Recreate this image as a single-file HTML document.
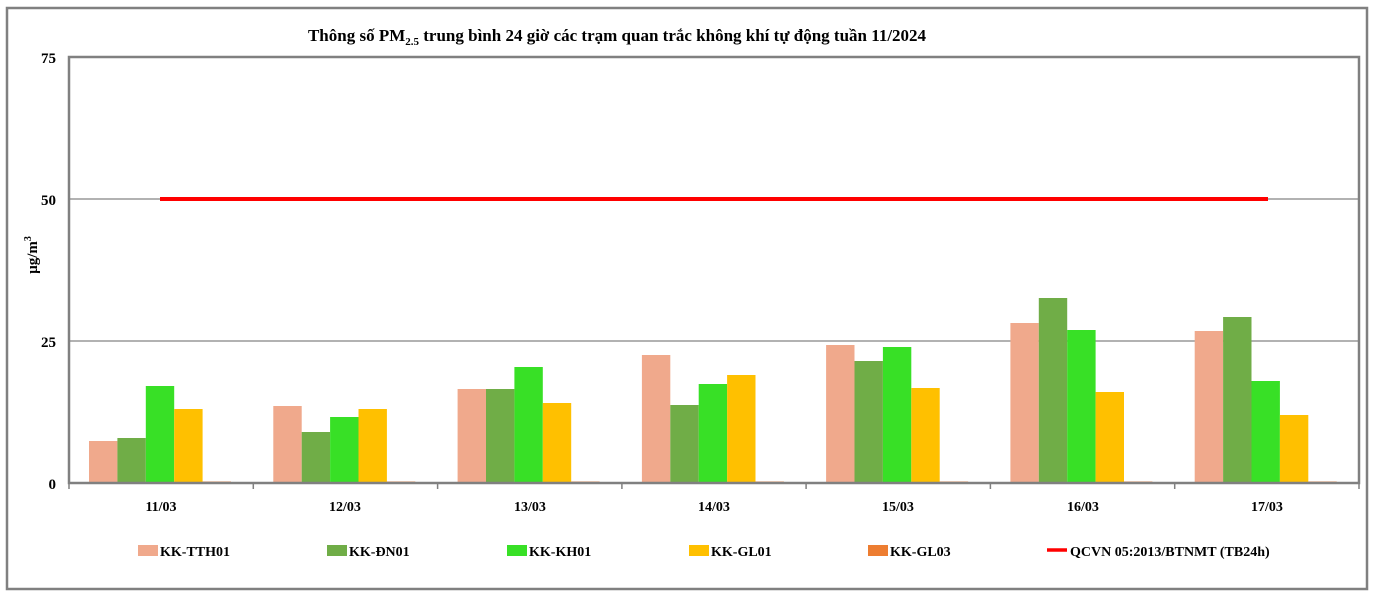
<!DOCTYPE html>
<html><head><meta charset="utf-8"><style>body{margin:0;background:#fff}svg{display:block}text{font-family:"Liberation Serif",serif;font-weight:bold}</style></head><body>
<svg width="1373" height="596" xmlns="http://www.w3.org/2000/svg">
<rect x="7" y="8" width="1360" height="581" fill="#fff" stroke="#808080" stroke-width="2.5"/>
<text x="617" y="41" font-size="17" text-anchor="middle">Thông số PM<tspan font-size="11" dy="4">2.5</tspan><tspan dy="-4"> trung bình 24 giờ các trạm quan trắc không khí tự động tuần 11/2024</tspan></text>
<line x1="69" y1="199" x2="1359" y2="199" stroke="#999" stroke-width="1.5"/>
<line x1="69" y1="341" x2="1359" y2="341" stroke="#999" stroke-width="1.5"/>
<g font-size="15" text-anchor="end"><text x="56" y="63">75</text><text x="56" y="205">50</text><text x="56" y="347">25</text><text x="56" y="489">0</text></g>
<text transform="translate(37,255) rotate(-90)" font-size="15" text-anchor="middle">µg/m<tspan font-size="10" dy="-6">3</tspan></text>
<g>
<rect x="89" y="441" width="28.4" height="42" fill="#f0a98c"/><rect x="117.4" y="438" width="28.4" height="45" fill="#70ad47"/><rect x="145.8" y="386" width="28.4" height="97" fill="#38e026"/><rect x="174.2" y="409" width="28.4" height="74" fill="#ffc000"/><rect x="202.6" y="481.5" width="28.4" height="1.5" fill="#ed7d31"/>
<rect x="273.3" y="406" width="28.4" height="77" fill="#f0a98c"/><rect x="301.7" y="432" width="28.4" height="51" fill="#70ad47"/><rect x="330.1" y="417" width="28.4" height="66" fill="#38e026"/><rect x="358.5" y="409" width="28.4" height="74" fill="#ffc000"/><rect x="386.9" y="481.5" width="28.4" height="1.5" fill="#ed7d31"/>
<rect x="457.6" y="389" width="28.4" height="94" fill="#f0a98c"/><rect x="486" y="389" width="28.4" height="94" fill="#70ad47"/><rect x="514.4" y="367" width="28.4" height="116" fill="#38e026"/><rect x="542.8" y="403" width="28.4" height="80" fill="#ffc000"/><rect x="571.2" y="481.5" width="28.4" height="1.5" fill="#ed7d31"/>
<rect x="641.9" y="355" width="28.4" height="128" fill="#f0a98c"/><rect x="670.3" y="405" width="28.4" height="78" fill="#70ad47"/><rect x="698.7" y="384" width="28.4" height="99" fill="#38e026"/><rect x="727.1" y="375" width="28.4" height="108" fill="#ffc000"/><rect x="755.5" y="481.5" width="28.4" height="1.5" fill="#ed7d31"/>
<rect x="826.1" y="345" width="28.4" height="138" fill="#f0a98c"/><rect x="854.5" y="361" width="28.4" height="122" fill="#70ad47"/><rect x="882.9" y="347" width="28.4" height="136" fill="#38e026"/><rect x="911.3" y="388" width="28.4" height="95" fill="#ffc000"/><rect x="939.7" y="481.5" width="28.4" height="1.5" fill="#ed7d31"/>
<rect x="1010.4" y="323" width="28.4" height="160" fill="#f0a98c"/><rect x="1038.8" y="298" width="28.4" height="185" fill="#70ad47"/><rect x="1067.2" y="330" width="28.4" height="153" fill="#38e026"/><rect x="1095.6" y="392" width="28.4" height="91" fill="#ffc000"/><rect x="1124" y="481.5" width="28.4" height="1.5" fill="#ed7d31"/>
<rect x="1194.7" y="331" width="28.4" height="152" fill="#f0a98c"/><rect x="1223.1" y="317" width="28.4" height="166" fill="#70ad47"/><rect x="1251.5" y="381" width="28.4" height="102" fill="#38e026"/><rect x="1279.9" y="415" width="28.4" height="68" fill="#ffc000"/><rect x="1308.3" y="481.5" width="28.4" height="1.5" fill="#ed7d31"/>
</g>
<line x1="160" y1="199" x2="1268" y2="199" stroke="#f00" stroke-width="4"/>
<rect x="69" y="57" width="1290" height="426" fill="none" stroke="#808080" stroke-width="2.5"/>
<g stroke="#808080" stroke-width="1.5">
<line x1="69" y1="483" x2="69" y2="489"/><line x1="253.3" y1="483" x2="253.3" y2="489"/><line x1="437.6" y1="483" x2="437.6" y2="489"/><line x1="621.9" y1="483" x2="621.9" y2="489"/><line x1="806.1" y1="483" x2="806.1" y2="489"/><line x1="990.4" y1="483" x2="990.4" y2="489"/><line x1="1174.7" y1="483" x2="1174.7" y2="489"/><line x1="1359" y1="483" x2="1359" y2="489"/>
</g>
<g font-size="14" text-anchor="middle">
<text x="161" y="511">11/03</text><text x="345" y="511">12/03</text><text x="530" y="511">13/03</text><text x="714" y="511">14/03</text><text x="898" y="511">15/03</text><text x="1083" y="511">16/03</text><text x="1267" y="511">17/03</text>
</g>
<g font-size="14">
<rect x="138" y="545" width="20" height="11" fill="#f0a98c"/><text x="160" y="556">KK-TTH01</text>
<rect x="327" y="545" width="20" height="11" fill="#70ad47"/><text x="349" y="556">KK-ĐN01</text>
<rect x="507" y="545" width="20" height="11" fill="#38e026"/><text x="529" y="556">KK-KH01</text>
<rect x="689" y="545" width="20" height="11" fill="#ffc000"/><text x="711" y="556">KK-GL01</text>
<rect x="868" y="545" width="20" height="11" fill="#ed7d31"/><text x="890" y="556">KK-GL03</text>
<line x1="1047" y1="550" x2="1067" y2="550" stroke="#f00" stroke-width="3.5"/><text x="1070" y="556">QCVN 05:2013/BTNMT (TB24h)</text>
</g>
</svg>
</body></html>
